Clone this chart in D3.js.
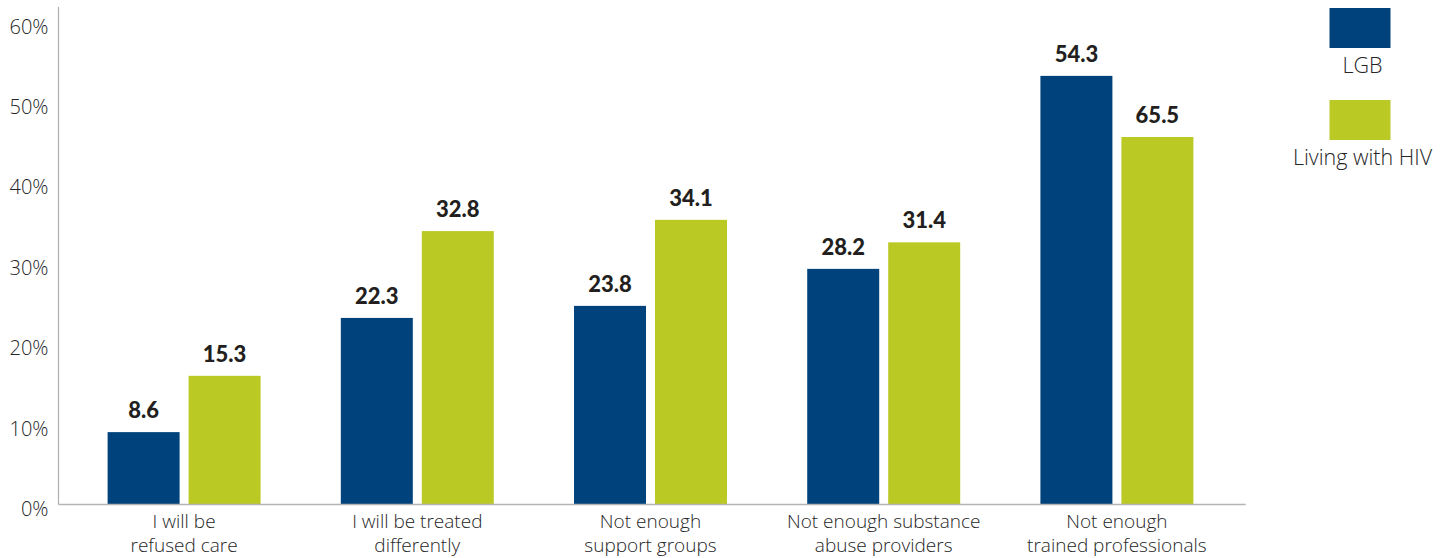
<!DOCTYPE html>
<html>
<head>
<meta charset="utf-8">
<script src="https://cdn.jsdelivr.net/npm/d3@7"></script>
<style>
  html, body { margin: 0; padding: 0; background: #fff; }
  svg { display: block; }
</style>
</head>
<body>
<svg id="chart" width="1452" height="558"></svg>
<script>
// ---- data ----
const categories = [
  ["I will be", "refused care"],
  ["I will be treated", "differently"],
  ["Not enough", "support groups"],
  ["Not enough substance", "abuse providers"],
  ["Not enough", "trained professionals"]
];
const seriesNames = ["LGB", "Living with HIV"];
// bar heights as drawn against the % axis
const lgbValues = [9.0, 23.2, 24.7, 29.3, 53.3];
const hivValues = [16.0, 34.0, 35.4, 32.6, 45.7];
// printed value labels
const lgbLabels = ["8.6", "22.3", "23.8", "28.2", "54.3"];
const hivLabels = ["15.3", "32.8", "34.1", "31.4", "65.5"];
const yTicks = [0, 10, 20, 30, 40, 50, 60];
const colors = ["#00427b", "#bbc925"];

// ---- layout ----
const svg = d3.select("#chart");
const axisX = 58.5, baseY = 504.5, topY = 7;
const textFont = "'Open Sans', sans-serif";
const textColor = "#262626";

const x0 = d3.scaleBand()
  .domain(d3.range(categories.length))
  .range([67.5, 1233.5])
  .paddingInner(0.344)
  .paddingOuter(0.172);

const x1 = d3.scaleBand()
  .domain(seriesNames)
  .range([0, x0.bandwidth()])
  .paddingInner(0.111);

const y = d3.scaleLinear().domain([0, 60]).range([baseY, 22]);

// y axis line
svg.append("line")
  .attr("x1", axisX).attr("x2", axisX)
  .attr("y1", baseY).attr("y2", topY)
  .attr("stroke", "#aeaeae").attr("stroke-width", 1.2);

// y tick labels
svg.append("g").selectAll("text").data(yTicks).join("text")
  .attr("x", 48.5)
  .attr("y", d => y(d) + 4)
  .attr("text-anchor", "end")
  .attr("dominant-baseline", "central")
  .attr("font-family", textFont)
  .attr("font-size", 20)
  .attr("font-weight", 300)
  .attr("fill", textColor)
  .text(d => d + "%");

// bars
const series = [
  { name: seriesNames[0], values: lgbValues, labels: lgbLabels, color: colors[0] },
  { name: seriesNames[1], values: hivValues, labels: hivLabels, color: colors[1] }
];

const groups = svg.append("g").selectAll("g").data(categories).join("g")
  .attr("transform", (d, i) => `translate(${x0(i)},0)`);

groups.each(function (cat, i) {
  const g = d3.select(this);
  series.forEach(s => {
    const v = s.values[i];
    g.append("rect")
      .attr("x", x1(s.name))
      .attr("width", x1.bandwidth())
      .attr("y", y(v))
      .attr("height", y(0) - y(v))
      .attr("fill", s.color);
    g.append("text")
      .attr("x", x1(s.name) + x1.bandwidth() / 2)
      .attr("y", y(v) - 14)
      .attr("text-anchor", "middle")
      .attr("font-family", "Lato, sans-serif")
      .attr("font-size", 22)
      .attr("font-weight", 900)
      .attr("fill", "#231f20")
      .text(s.labels[i]);
  });
  const t = g.append("text")
    .attr("text-anchor", "middle")
    .attr("font-family", textFont)
    .attr("font-size", 19)
    .attr("font-weight", 300)
    .attr("fill", textColor);
  cat.forEach((line, k) => {
    t.append("tspan")
      .attr("x", x0.bandwidth() / 2)
      .attr("y", 527.5 + k * 24.5)
      .text(line);
  });
});

// x axis line
svg.append("line")
  .attr("x1", axisX).attr("x2", 1245.7)
  .attr("y1", baseY).attr("y2", baseY)
  .attr("stroke", "#b5b5b5").attr("stroke-width", 1.6);

// legend
const legend = [
  { name: seriesNames[0], color: colors[0], y: 8, ty: 73 },
  { name: seriesNames[1], color: colors[1], y: 100, ty: 164.5 }
];
const lg = svg.append("g").selectAll("g").data(legend).join("g");
lg.append("rect")
  .attr("x", 1329.5).attr("y", d => d.y)
  .attr("width", 61).attr("height", 40)
  .attr("fill", d => d.color);
lg.append("text")
  .attr("x", 1362.5).attr("y", d => d.ty)
  .attr("text-anchor", "middle")
  .attr("font-family", textFont)
  .attr("font-size", 21.5)
  .attr("font-weight", 300)
  .attr("fill", textColor)
  .text(d => d.name);
</script>
</body>
</html>
